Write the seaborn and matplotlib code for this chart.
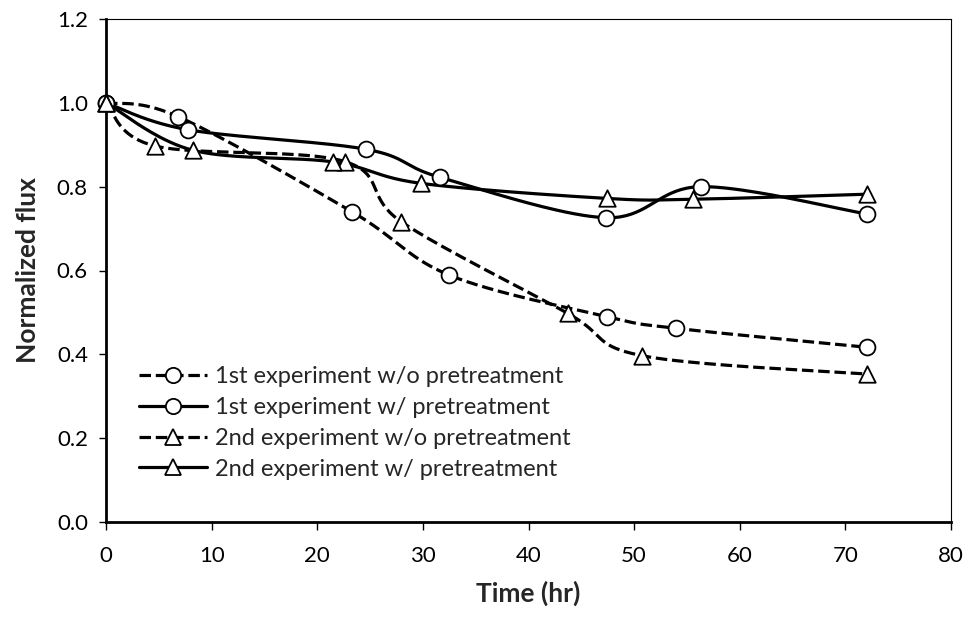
import numpy as np
import pandas as pd
import matplotlib
matplotlib.use("Agg")
import matplotlib.pyplot as plt
from matplotlib.lines import Line2D
import seaborn as sns

# ---------------- data ----------------
t_1st_wo = [0, 6.84, 23.3, 32.5, 47.4, 54.0, 72.0]
f_1st_wo = [1.0, 0.967, 0.740, 0.589, 0.490, 0.462, 0.417]

t_1st_w = [0, 7.72, 24.66, 31.66, 47.3, 56.35, 72.0]
f_1st_w = [1.0, 0.936, 0.889, 0.822, 0.726, 0.800, 0.735]

t_2nd_wo = [0, 4.64, 22.6, 27.97, 43.7, 50.7, 72.0]
f_2nd_wo = [1.0, 0.897, 0.860, 0.716, 0.498, 0.397, 0.353]

t_2nd_w = [0, 8.2, 21.5, 29.8, 47.4, 55.6, 72.0]
f_2nd_w = [1.0, 0.887, 0.859, 0.808, 0.772, 0.770, 0.782]

labels = ["1st experiment w/o pretreatment",
          "1st experiment w/ pretreatment",
          "2nd experiment w/o pretreatment",
          "2nd experiment w/ pretreatment"]
xticks = [0, 10, 20, 30, 40, 50, 60, 70, 80]
yticks = [0.0, 0.2, 0.4, 0.6, 0.8, 1.0, 1.2]
xlabel = "Time (hr)"
ylabel = "Normalized flux"

# ---------------- style ----------------
sns.set_style("white")
plt.rcParams["font.family"] = ["Lato", "DejaVu Sans"]

W, H = 967, 617
fig = plt.figure(figsize=(W / 100, H / 100), dpi=100)
ax_l, ax_r, ax_t, ax_b = 106, 951, 19, 522
ax = fig.add_axes([ax_l / W, 1 - ax_b / H, (ax_r - ax_l) / W, (ax_b - ax_t) / H])
ax.set_xlim(0, 80)
ax.set_ylim(0, 1.2)

sx = (ax_r - ax_l) / 80.0
sy = (ax_b - ax_t) / 1.2


def excel_smooth(t, f, n=40):
    """Excel-like smoothed line (cubic Bezier, Catmull-Rom style), in pixel space."""
    P = np.column_stack([np.asarray(t) * sx, np.asarray(f) * sy])
    m = len(P)
    out = []
    for i in range(m - 1):
        p0 = P[i - 1] if i > 0 else P[i]
        p1 = P[i]
        p2 = P[i + 1]
        p3 = P[i + 2] if i + 2 < m else P[i + 1]
        c1 = p1 + (p2 - p0) / 6.0
        c2 = p2 - (p3 - p1) / 6.0
        u = np.linspace(0, 1, n)[:, None]
        seg = ((1 - u) ** 3) * p1 + 3 * ((1 - u) ** 2) * u * c1 + 3 * (1 - u) * u ** 2 * c2 + u ** 3 * p2
        if i > 0:
            seg = seg[1:]
        out.append(seg)
    out = np.vstack(out)
    return out[:, 0] / sx, out[:, 1] / sy


lw = 2.3
dash = (0, (3.6, 1.5))
series = [
    (t_1st_wo, f_1st_wo, dash, "o"),
    (t_1st_w, f_1st_w, "-", "o"),
    (t_2nd_wo, f_2nd_wo, dash, "^"),
    (t_2nd_w, f_2nd_w, "-", "^"),
]

for k, (t, f, ls, mk) in enumerate(series):
    xs, ys = excel_smooth(t, f)
    sm = pd.DataFrame({"x": xs, "y": ys})
    sns.lineplot(data=sm, x="x", y="y", ax=ax, sort=False, estimator=None,
                 color="black", lw=lw, linestyle=ls, zorder=2 + k)
    pts = pd.DataFrame({"x": t, "y": f})
    sns.scatterplot(data=pts, x="x", y="y", ax=ax, marker=mk, s=130 if mk == "o" else 140,
                    facecolor="white", edgecolor="black", linewidth=1.3, zorder=10 + k,
                    clip_on=False)

# ---------------- axes ----------------
ax.set_xticks(xticks)
ax.set_yticks(yticks)
ax.set_xticklabels([str(v) for v in xticks])
ax.set_yticklabels([f"{v:.1f}" for v in yticks])
ax.tick_params(axis="both", which="both", labelsize=16, colors="black")
ax.tick_params(axis="y", direction="out", length=5, width=1.0, pad=8, left=True)
ax.tick_params(axis="x", direction="out", length=5.5, width=1.0, pad=12, bottom=True)

for side in ["left", "bottom"]:
    ax.spines[side].set_linewidth(2.0)
    ax.spines[side].set_color("black")
for side in ["top", "right"]:
    ax.spines[side].set_linewidth(0.8)
    ax.spines[side].set_color("black")
    ax.spines[side].set_visible(True)

ax.set_xlabel(xlabel, fontsize=19, fontweight="bold", labelpad=10)
ax.set_ylabel(ylabel, fontsize=19, fontweight="bold", labelpad=12)

# ---------------- legend ----------------
handles = []
for (t, f, ls, mk) in series:
    handles.append(Line2D([], [], color="black", lw=lw, linestyle=ls, marker=mk,
                          markersize=11, markerfacecolor="white",
                          markeredgecolor="black", markeredgewidth=1.3))
leg = ax.legend(handles, labels, loc="upper left",
                bbox_to_anchor=(139 / W, 1 - 366 / H), bbox_transform=fig.transFigure,
                frameon=False, fontsize=17, handlelength=2.9, handletextpad=0.3,
                labelspacing=0.42, borderpad=0, borderaxespad=0, numpoints=1)

fig.savefig("out.png", dpi=100)
